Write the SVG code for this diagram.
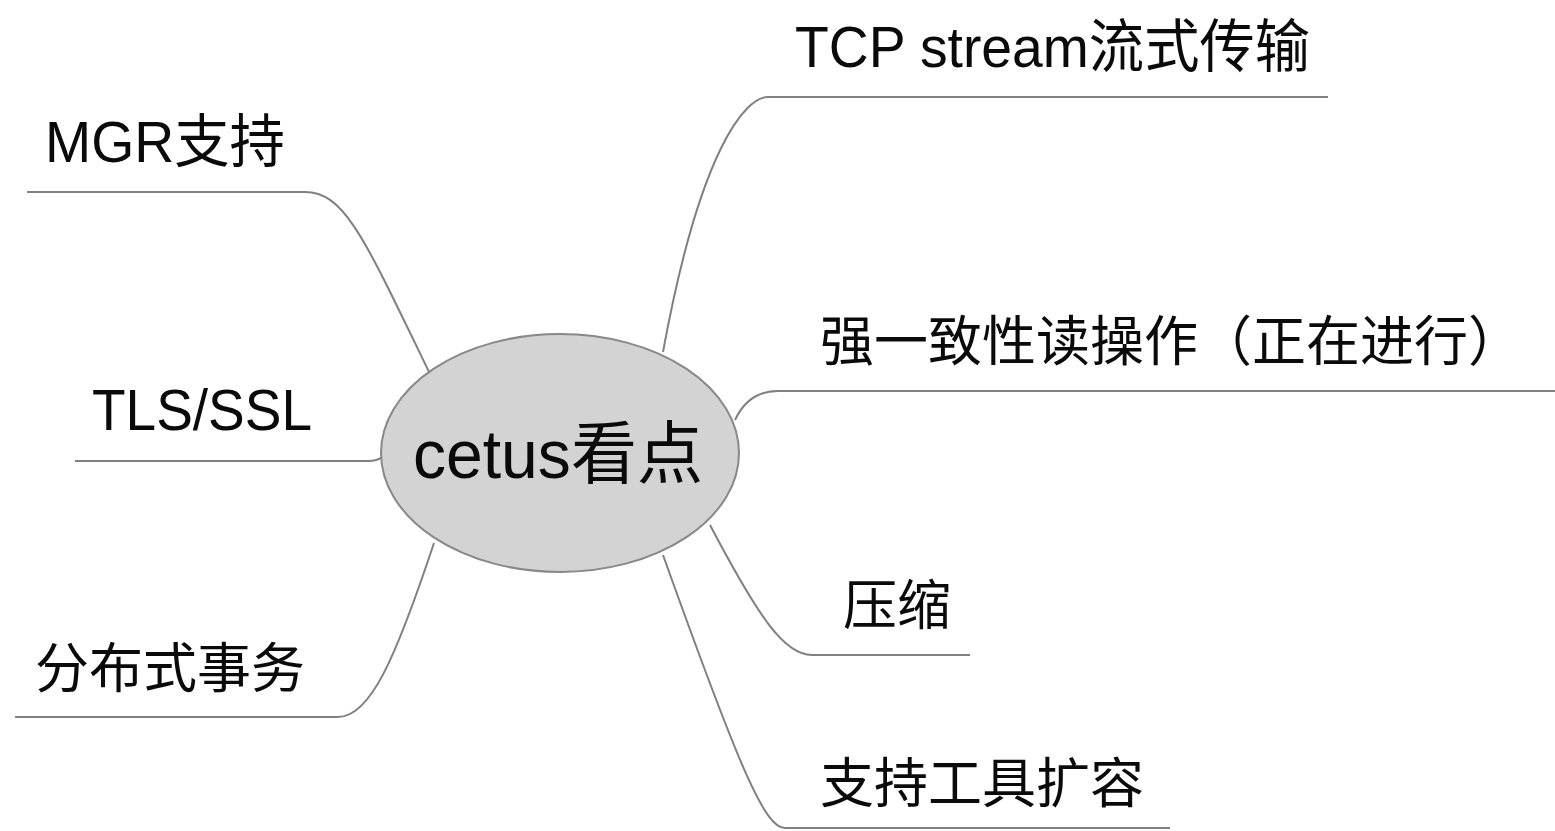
<svg xmlns="http://www.w3.org/2000/svg" width="1555" height="831" viewBox="0 0 1555 831">
<style>
.c{fill:none;stroke:#808080;stroke-width:2}
.t{font-family:"Liberation Sans","Noto Sans CJK SC",sans-serif;font-size:58px;fill:#0a0a0a}
.s{font-family:"Noto Sans CJK SC","Liberation Sans",sans-serif;font-size:54px;fill:#0a0a0a}
.ct{font-family:"Liberation Sans","Noto Sans CJK SC",sans-serif;font-size:68px;fill:#0a0a0a}
</style>
<rect width="1555" height="831" fill="#fff"/>
<g id="connectors">
<path class="c" d="M27,192 H305 C345,192 365,240 430,374"/>
<path class="c" d="M75,461 H368 Q378,461 384,456"/>
<path class="c" d="M15,717 H338 C370,717 395,660 434,543"/>
<path class="c" d="M1328,97 H768 C745,97 700,150 663,352"/>
<path class="c" d="M1555,391 H778 C755,391 742,405 735,420"/>
<path class="c" d="M970,655 H812 C785,655 760,620 710,525"/>
<path class="c" d="M1170,828 H785 C765,828 740,770 663,555"/>
</g>
<g id="center">
<ellipse cx="560" cy="453" rx="179" ry="119" fill="#d3d3d3" stroke="#888" stroke-width="2"/>
<text class="ct" x="413" y="478" textLength="290" lengthAdjust="spacingAndGlyphs">cetus看点</text>
</g>
<g id="n-mgr"><text class="t" x="45" y="162" textLength="240" lengthAdjust="spacingAndGlyphs">MGR支持</text></g>
<g id="n-tls"><text class="t" x="92" y="430" textLength="220" lengthAdjust="spacingAndGlyphs">TLS/SSL</text></g>
<g id="n-dist"><text class="s" x="35" y="688">分布式事务</text></g>
<g id="n-tcp"><text class="t" x="795" y="67" textLength="515" lengthAdjust="spacingAndGlyphs">TCP stream流式传输</text></g>
<g id="n-strong"><text class="s" x="820" y="361">强一致性读操作（正在进行）</text></g>
<g id="n-compress"><text class="s" x="843" y="625">压缩</text></g>
<g id="n-tool"><text class="s" x="820" y="803">支持工具扩容</text></g>
</svg>
